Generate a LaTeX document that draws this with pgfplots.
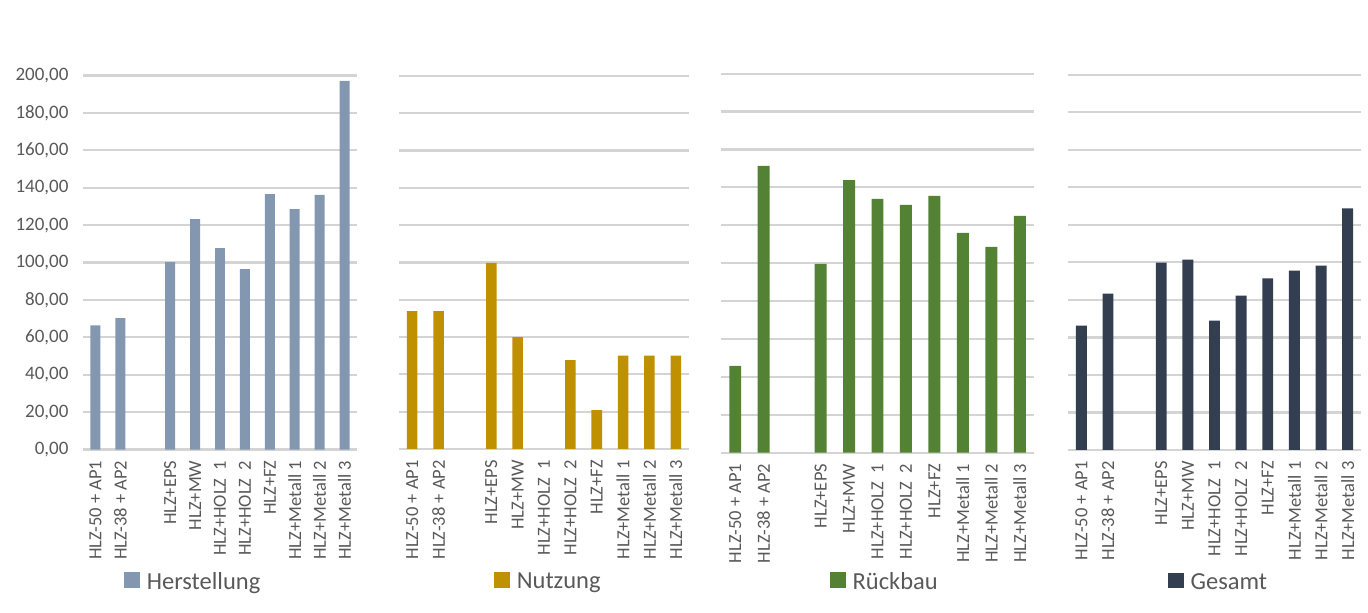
\documentclass[border=0pt]{standalone}
\usepackage{fontspec}
\setmainfont{Carlito}
\usepackage{pgfplots}
\pgfplotsset{compat=1.18}

\definecolor{cHer}{HTML}{8497B0}
\definecolor{cNut}{HTML}{BF9000}
\definecolor{cRue}{HTML}{548235}
\definecolor{cGes}{HTML}{333F50}
\definecolor{gridgray}{HTML}{D4D4D4}
\definecolor{txtgray}{HTML}{595959}

\pgfplotsset{
  panel/.style={
    anchor=south west, scale only axis,
    xmin=-0.5, xmax=10.5, ymin=0, ymax=200,
    ytick={0,20,...,200},
    xtick={0,1,3,4,5,6,7,8,9,10},
    xticklabels={HLZ-50 + AP1, HLZ-38 + AP2, HLZ+EPS, HLZ+MW, HLZ+HOLZ\ \ 1,
      HLZ+HOLZ\ \ 2, HLZ+FZ, HLZ+Metall 1, HLZ+Metall 2, HLZ+Metall 3},
    ymajorgrids, major grid style={draw=gridgray, line width=2.2bp},
    axis line style={draw=none}, major tick length=0pt,
    xticklabel style={rotate=90, anchor=east, inner sep=0pt,
      font=\fontsize{18.5bp}{20bp}\selectfont, text=txtgray},
    xticklabel shift=11bp,
    yticklabel style={font=\fontsize{19bp}{21bp}\selectfont, text=txtgray},
    /pgf/number format/.cd, fixed, fixed zerofill, precision=2, use comma,
    assume math mode=true, /pgfplots/.cd,
    legend style={draw=none, fill=none, inner sep=0pt, anchor=west,
      font=\fontsize{24.5bp}{26bp}\selectfont, text=txtgray},
  },
  sq/.style={legend image code/.code={
    \fill[##1] (0bp,-6bp) rectangle (15.5bp,9.5bp);
    \path (20.5bp,0bp);}},
}

\begin{document}
\begin{tikzpicture}
\path[use as bounding box] (0,0) rectangle (1368bp,613bp);

% Herstellung
\begin{axis}[panel, at={(83bp,163.5bp)}, width=274bp, height=374bp,
  yticklabel style={xshift=-11bp},
  legend style={at={(0.150,-0.354)}}]
\addplot[ybar, bar width=0.4, fill=cHer, draw=none, sq] coordinates {
  (0,66.4) (1,70.2) (3,100.2) (4,123.2) (5,107.7) (6,96.4)
  (7,136.6) (8,128.6) (9,136.1) (10,197.1)};
\addlegendentry{Herstellung}
\end{axis}

% Nutzung
\begin{axis}[panel, at={(399bp,164bp)}, width=290bp, height=373bp,
  yticklabels={},
  legend style={at={(0.328,-0.356)}}]
\addplot[ybar, bar width=0.4, fill=cNut, draw=none, sq] coordinates {
  (0,73.9) (1,73.9) (3,99.8) (4,60.0) (6,47.7)
  (7,20.9) (8,50.0) (9,50.0) (10,50.0)};
\addlegendentry{Nutzung}
\end{axis}

% Rückbau
\begin{axis}[panel, at={(721bp,160.3bp)}, width=313bp, height=379bp,
  yticklabels={},
  legend style={at={(0.348,-0.341)}}]
\addplot[ybar, bar width=0.42, fill=cRue, draw=none, sq] coordinates {
  (0,45.8) (1,151.3) (3,99.6) (4,143.9) (5,133.9) (6,130.8)
  (7,135.5) (8,116.0) (9,108.6) (10,125.0)};
\addlegendentry{Rückbau}
\end{axis}

% Gesamt
\begin{axis}[panel, at={(1068bp,163bp)}, width=293bp, height=375.3bp,
  yticklabels={},
  legend style={at={(0.341,-0.352)}}]
\addplot[ybar, bar width=0.41, fill=cGes, draw=none, sq] coordinates {
  (0,66.3) (1,83.3) (3,99.9) (4,101.5) (5,68.9) (6,82.3)
  (7,91.4) (8,95.6) (9,98.3) (10,128.8)};
\addlegendentry{Gesamt}
\end{axis}
\end{tikzpicture}
\end{document}
